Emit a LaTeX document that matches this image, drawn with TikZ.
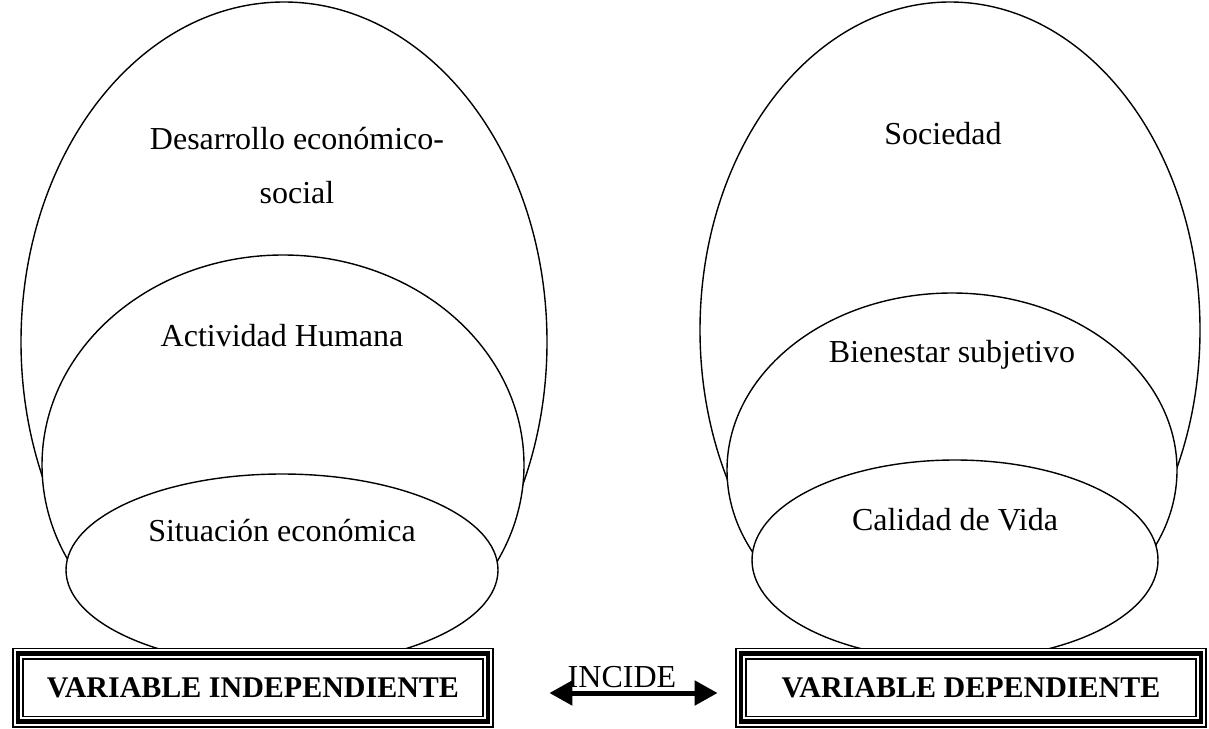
\documentclass[tikz,border=0pt]{standalone}
\usepackage{fontspec}
\setmainfont{Liberation Serif}
\usetikzlibrary{shapes.geometric,arrows.meta}

\tikzset{
  zone/.style={ellipse, draw, fill=white, line width=0.7pt, inner sep=0pt},
  lbl/.style={anchor=base, align=center, font=\fontsize{16}{27}\selectfont},
  varbox/.style={rectangle, draw, line width=2.4pt, inner sep=0pt, minimum height=34pt,
    preaction={fill=white, draw, line width=0.8pt, double=white, double distance=4.4pt},
    font=\fontsize{15}{18}\selectfont\bfseries},
}

\begin{document}
\begin{tikzpicture}[x=0.5pt,y=-0.5pt]
        \useasboundingbox (0,0) rectangle (1209,728);

        % Independent side
        \node[zone, minimum width=263pt, minimum height=340pt] (desarrollo) at (284,342) {};
        \node[zone, minimum width=241pt, minimum height=210pt] (actividad) at (283,465) {};
        \node[zone, minimum width=216pt, minimum height=96pt] (situacion) at (282,570) {};

        % Dependent side
        \node[zone, minimum width=250pt, minimum height=328pt] (sociedad) at (950,330) {};
        \node[zone, minimum width=225pt, minimum height=177pt] (bienestar) at (952,470) {};
        \node[zone, minimum width=203pt, minimum height=100pt] (calidad) at (955,560) {};

        % Labels
        \node[lbl] (desarrollo-txt) at (297,203) {Desarrollo económico-\\social};
        \node[lbl] (actividad-txt) at (282,346) {Actividad Humana};
        \node[lbl] (situacion-txt) at (282,541) {Situación económica};
        \node[lbl] (sociedad-txt) at (943,144) {Sociedad};
        \node[lbl] (bienestar-txt) at (952,362) {Bienestar subjetivo};
        \node[lbl] (calidad-txt) at (955,530) {Calidad de Vida};

        % Variables
        \node[varbox, minimum width=235pt] (indep) at (253,687.5) {VARIABLE INDEPENDIENTE};
        \node[varbox, minimum width=230pt] (dep) at (971,687.5) {VARIABLE DEPENDIENTE};

        % Connection
        \draw[line width=2.5pt, {Triangle[length=11.5pt,width=12pt]}-{Triangle[length=11.5pt,width=12pt]},
              shorten <=29.5pt, shorten >=10.5pt]
            ([yshift=-2.75pt]indep.east) -- node[pos=0.53, anchor=base, yshift=3pt, font=\fontsize{16}{18}\selectfont] (incide) {INCIDE} ([yshift=-2.75pt]dep.west);
    \end{tikzpicture}
\end{document}
